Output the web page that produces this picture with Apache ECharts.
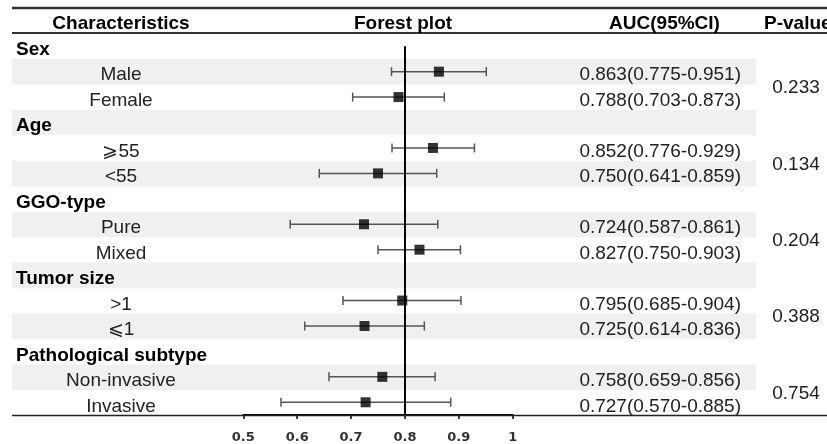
<!DOCTYPE html>
<html><head><meta charset="utf-8">
<script src="https://cdn.jsdelivr.net/npm/echarts@6/dist/echarts.min.js"></script>
<style>html,body{margin:0;padding:0;background:#fff}#c{width:827px;height:444px}</style>
</head><body><div id="c"></div>
<script>
// ---------- data ----------
const headers = ['Characteristics', 'Forest plot', 'AUC(95%CI)', 'P-value'];
const groups = ['Sex', 'Age', 'GGO-type', 'Tumor size', 'Pathological subtype'];
const subgroups = ['Male', 'Female', '⩾55', '<55', 'Pure', 'Mixed', '>1', '⩽1', 'Non-invasive', 'Invasive'];
const auc   = [0.863, 0.788, 0.852, 0.750, 0.724, 0.827, 0.795, 0.725, 0.758, 0.727];
const lower = [0.775, 0.703, 0.776, 0.641, 0.587, 0.750, 0.685, 0.614, 0.659, 0.570];
const upper = [0.951, 0.873, 0.929, 0.859, 0.861, 0.903, 0.904, 0.836, 0.856, 0.885];
const pValues = ['0.233', '0.134', '0.204', '0.388', '0.754'];
const xTicks = [0.5, 0.6, 0.7, 0.8, 0.9, 1];
const refValue = 0.8;

// ---------- layout ----------
const W = 827, H = 444;
const TOP = 33.5, BOTTOM_Y = 415.5;
const FONT = '"Liberation Sans", Arial, sans-serif';
const FS = 19;
const TEXT_DY = 3.5;
const COL = {groupLeft: 16, subCenter: 121, aucRight: 741, pCenter: 796, shadeL: 12, shadeR: 756};

// rows
const rows = [];
groups.forEach((g, gi) => {
  rows.push({text: g, type: 'group'});
  for (let k = 0; k < 2; k++) rows.push({text: subgroups[gi * 2 + k], type: 'sub', s: gi * 2 + k});
});
const N = rows.length;

const textItems = [];
rows.forEach((r, i) => {
  if (r.type === 'group') {
    textItems.push({x: COL.groupLeft, y: i + 0.5, text: r.text, align: 'left', bold: true});
  } else {
    textItems.push({x: COL.subCenter, y: i + 0.5, text: r.text, align: 'center', bold: false});
    const s = r.s;
    textItems.push({x: COL.aucRight, y: i + 0.5,
      text: auc[s].toFixed(3) + '(' + lower[s].toFixed(3) + '-' + upper[s].toFixed(3) + ')',
      align: 'right', bold: false});
  }
});
pValues.forEach((p, gi) => textItems.push({x: COL.pCenter, y: gi * 3 + 2, text: p, align: 'center', bold: false}));

const shadeRows = [];
for (let i = 0; i < N; i++) if (i % 2 === 1) shadeRows.push(i);

const forestData = auc.map((v, s) => {
  const rowIdx = rows.findIndex(r => r.s === s);
  return [v, rowIdx + 0.5, lower[s], upper[s]];
});

const hdr = (text, x, align) => ({type: 'text', x: x, y: 23.5, z: 10,
  style: {text: text, align: align, verticalAlign: 'middle', font: 'bold ' + FS + 'px ' + FONT, fill: '#000'}});

const chart = echarts.init(document.getElementById('c'), null, {renderer: 'canvas'});
chart.setOption({
  animation: false,
  backgroundColor: '#fff',
  grid: [
    {left: 243.3, right: W - 512.7, top: TOP, bottom: H - BOTTOM_Y},
    {left: 0, right: 0, top: TOP, bottom: H - BOTTOM_Y}
  ],
  xAxis: [
    {gridIndex: 0, type: 'value', position: 'bottom', min: 0.5, max: 1, interval: 0.1, splitLine: {show: false},
     axisLine: {show: true, onZero: false, lineStyle: {color: '#000', width: 2}},
     axisTick: {show: true, length: 4, lineStyle: {color: '#000', width: 1.5}},
     axisLabel: {margin: 16, color: '#333', fontFamily: '"DejaVu Sans", sans-serif', fontWeight: 'bold', fontSize: 13,
       formatter: v => { const t = xTicks.find(x => Math.abs(x - v) < 1e-6); return t === undefined ? '' : String(t); }}},
    {gridIndex: 1, type: 'value', min: 0, max: W, show: false}
  ],
  yAxis: [
    {gridIndex: 0, type: 'value', min: 0, max: N, inverse: true, show: false},
    {gridIndex: 1, type: 'value', min: 0, max: N, inverse: true, show: false}
  ],
  graphic: [
    {type: 'line', shape: {x1: 12, y1: 8, x2: W, y2: 8}, style: {stroke: '#333', lineWidth: 2.5}, z: 10},
    {type: 'line', shape: {x1: 12, y1: 33, x2: W, y2: 33}, style: {stroke: '#333', lineWidth: 2}, z: 10},
    {type: 'line', shape: {x1: 12, y1: 415.5, x2: W, y2: 415.5}, style: {stroke: '#222', lineWidth: 1.5}, z: 1},
    hdr(headers[0], 121, 'center'),
    hdr(headers[1], 403, 'center'),
    hdr(headers[2], 664.5, 'center'),
    hdr(headers[3], 764, 'left')
  ],
  series: [
    { // row shading
      type: 'custom', xAxisIndex: 1, yAxisIndex: 1, z: 0, silent: true,
      data: shadeRows.map(i => [i]),
      renderItem: (params, api) => {
        const i = api.value(0);
        const p1 = api.coord([COL.shadeL, i]);
        const p2 = api.coord([COL.shadeR, i + 1]);
        return {type: 'rect', shape: {x: p1[0], y: p1[1], width: p2[0] - p1[0], height: p2[1] - p1[1]},
                style: {fill: '#f0f0f0'}};
      }
    },
    { // table text
      type: 'custom', xAxisIndex: 1, yAxisIndex: 1, z: 3, silent: true,
      data: textItems.map(t => [t.x, t.y]),
      renderItem: (params, api) => {
        const t = textItems[params.dataIndex];
        const p = api.coord([api.value(0), api.value(1)]);
        return {type: 'text', x: p[0], y: p[1] + TEXT_DY,
                style: {text: t.text, align: t.align, verticalAlign: 'middle',
                        font: (t.bold ? 'bold ' : '') + FS + 'px ' + FONT, fill: t.bold ? '#000' : '#222'}};
      }
    },
    { // CI whiskers
      type: 'custom', xAxisIndex: 0, yAxisIndex: 0, z: 4, silent: true,
      data: forestData,
      renderItem: (params, api) => {
        const y = api.value(1);
        const a = api.coord([api.value(2), y]);
        const b = api.coord([api.value(3), y]);
        const cap = 4.5;
        const st = {stroke: '#555', lineWidth: 1.5};
        return {type: 'group', children: [
          {type: 'line', shape: {x1: a[0], y1: a[1], x2: b[0], y2: b[1]}, style: st},
          {type: 'line', shape: {x1: a[0], y1: a[1] - cap, x2: a[0], y2: a[1] + cap}, style: st},
          {type: 'line', shape: {x1: b[0], y1: b[1] - cap, x2: b[0], y2: b[1] + cap}, style: st}
        ]};
      }
    },
    { // point estimates
      type: 'scatter', xAxisIndex: 0, yAxisIndex: 0, z: 6, silent: true,
      symbol: 'rect', symbolSize: 10, itemStyle: {color: '#000'},
      data: forestData.map(d => [d[0], d[1]]),
      markLine: {
        silent: true, symbol: 'none', label: {show: false},
        lineStyle: {color: '#000', width: 2, type: 'solid'},
        data: [[{coord: [refValue, 0.5]}, {coord: [refValue, N]}]]
      }
    }
  ]
});
</script>
</body></html>
